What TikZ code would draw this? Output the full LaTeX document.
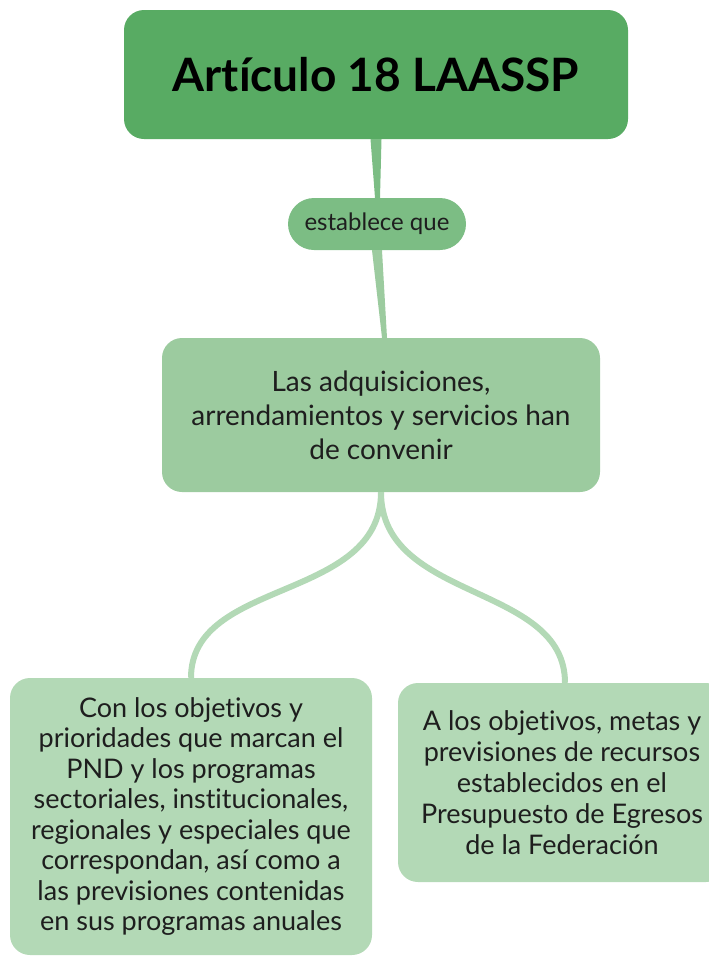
\documentclass[tikz,border=0pt]{standalone}
\usepackage{fontspec}
\setmainfont{Lato}[Ligatures=NoCommon]
\definecolor{gtop}{HTML}{58AB63}
\definecolor{gverb}{HTML}{7CBD84}
\definecolor{gmid}{HTML}{9CCB9F}
\definecolor{gleaf}{HTML}{B3D9B6}
\definecolor{ink}{HTML}{1E1E1E}
\begin{document}
\begin{tikzpicture}[x=1pt,y=-1pt,
    box/.style={rounded corners=20pt,align=center,text=ink,inner sep=0pt},
    link/.style={line width=6pt,color=gleaf}]
\useasboundingbox (0,0) rectangle (709,959);
\node[box,fill=gtop,text=black,minimum width=504pt,minimum height=129pt,font=\fontsize{46}{54}\selectfont\bfseries] (art) at (376,74.5) {Artículo 18 LAASSP};
\node[box,fill=gverb,rounded corners=26pt,minimum width=178pt,minimum height=52pt,font=\fontsize{24}{28}\selectfont] (verb) at (377,224) {establece que};
\node[box,fill=gmid,minimum width=438pt,minimum height=154pt,font=\fontsize{28}{34}\selectfont] (adq) at (381,415) {Las adquisiciones,\\arrendamientos y servicios han\\de convenir};
\node[box,fill=gleaf,minimum width=362pt,minimum height=277pt,font=\fontsize{27}{30.5}\selectfont] (pnd) at (191,816.5) {Con los objetivos y\\prioridades que marcan el\\PND y los programas\\sectoriales, institucionales,\\regionales y especiales que\\correspondan, así como a\\las previsiones contenidas\\en sus programas anuales};
\node[box,fill=gleaf,minimum width=328pt,minimum height=199pt,font=\fontsize{27}{31}\selectfont] (pef) at (562,782.5) {A los objetivos, metas y\\previsiones de recursos\\establecidos en el\\Presupuesto de Egresos\\de la Federación};
% tapered stems
\fill[gverb] ([xshift=-5.5pt]art.south) -- ([xshift=5.5pt]art.south) -- ([xshift=3pt]verb.north) -- ([xshift=-2pt]verb.north) -- cycle;
\fill[gmid] ([xshift=-5pt]verb.south) -- ([xshift=5pt]verb.south) -- ([xshift=6pt]adq.north) -- ([xshift=1pt]adq.north) -- cycle;
% branches
\draw[link] (adq.south) .. controls +(0,110) and +(0,-100) .. (pnd.north);
\draw[link] (adq.south) .. controls +(0,110) and +(0,-100) .. ([xshift=3pt]pef.north);
\end{tikzpicture}
\end{document}
